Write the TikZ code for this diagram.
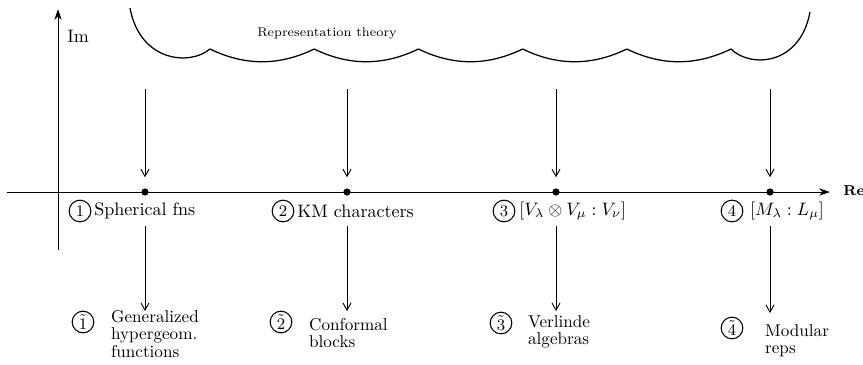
\documentclass[tikz,border=0pt]{standalone}
\usepackage{amsmath}
\usetikzlibrary{positioning, arrows.meta}
\tikzset{
    axis/.style={-{Stealth[length=6pt,width=4pt]}, line width=0.5pt},
    maparrow/.style={-{Straight Barb[length=4pt,width=4.5pt]}, line width=0.5pt},
    dot/.style={circle, fill=black, inner sep=0pt, minimum size=4pt},
    num/.style={circle, draw, line width=0.6pt, inner sep=0pt, minimum size=12pt, font=\small},
    lab/.style={inner sep=1pt, font=\normalsize},
    lowlab/.style={inner sep=1pt, align=left, font=\fontsize{9.5}{9.6}\selectfont},
    cloud/.style={line width=0.7pt}
}
\begin{document}
\begin{tikzpicture}[x=0.0195cm, y=-0.0195cm]
    \useasboundingbox (0,0) rectangle (863,364);

    % Axes
    \coordinate (imlow) at (58,250);
    \coordinate (imtop) at (58,9);
    \coordinate (releft) at (7,192);
    \coordinate (reright) at (830,192);
    \draw [axis] (imlow) -- (imtop);
    \draw [axis] (releft) -- (reright);
    \node (im) [anchor=west, inner sep=0pt] at (67,36) {Im};
    \node (re) [anchor=west, inner sep=0pt, font=\footnotesize\bfseries] at (843,191) {Re};

    % Cloud
    \draw [cloud] (130,8) .. controls (140,62) and (190,66) .. (210,49);
    \foreach \c in {210,314.2,418.4,522.6,626.8}
        \draw [cloud] (\c,49) .. controls (\c+35,66) and (\c+69,66) .. (\c+104.2,49);
    \draw [cloud] (731,49) .. controls (750,68) and (800,66) .. (810,12);
    \node (rep) [font=\scriptsize] at (327,33) {Representation theory};

    % Points on the real axis
    \node (p1) [dot] at (145,192) {};
    \node (p2) [dot] at (347,192) {};
    \node (p3) [dot] at (556,192) {};
    \node (p4) [dot] at (770,192) {};

    % Arrows from the cloud
    \coordinate (t1) at (145,89);
    \coordinate (t2) at (347,89);
    \coordinate (t3) at (556,89);
    \coordinate (t4) at (770,89);
    \foreach \i in {1,...,4}
        \draw [maparrow, shorten >=6pt] (t\i) -- (p\i.north);

    % Labels below the axis
    \node (n1) [num] at (80,211) {1};
    \node (l1) [lab, right=0.5pt of n1] {Spherical fns};
    \node (n2) [num] at (283,211) {2};
    \node (l2) [lab, right=0.5pt of n2] {KM characters};
    \node (n3) [num] at (504,211) {3};
    \node (l3) [lab, right=1pt of n3] {$[V_\lambda\otimes V_\mu : V_\nu]$};
    \node (n4) [num] at (732,211) {4};
    \node (l4) [lab, right=2.5pt of n4] {$[M_\lambda : L_\mu]$};

    % Lower arrows
    \coordinate (b1) at (145,226);
    \coordinate (b2) at (347,226);
    \coordinate (b3) at (556,226);
    \coordinate (b4) at (770,226);
    \coordinate (e1) at (145,311);
    \coordinate (e2) at (347,311);
    \coordinate (e3) at (556,311);
    \coordinate (e4) at (770,313);
    \foreach \i in {1,...,4}
        \draw [maparrow] (b\i) -- (e\i);

    % Lower labels
    \node (m1) [num] at (83,322) {$\tilde{1}$};
    \node (g1) [lowlab, anchor=west] at (109,334) {Generalized\\hypergeom.\\functions};
    \node (m2) [num] at (281,322) {$\tilde{2}$};
    \node (g2) [lowlab, anchor=west] at (307,333) {Conformal\\blocks};
    \node (m3) [num] at (501,323) {$\tilde{3}$};
    \node (g3) [lowlab, anchor=west] at (526,332) {Verlinde\\algebras};
    \node (m4) [num] at (732,328) {$\tilde{4}$};
    \node (g4) [lowlab, anchor=west] at (763,341) {Modular\\reps};
\end{tikzpicture}
\end{document}
